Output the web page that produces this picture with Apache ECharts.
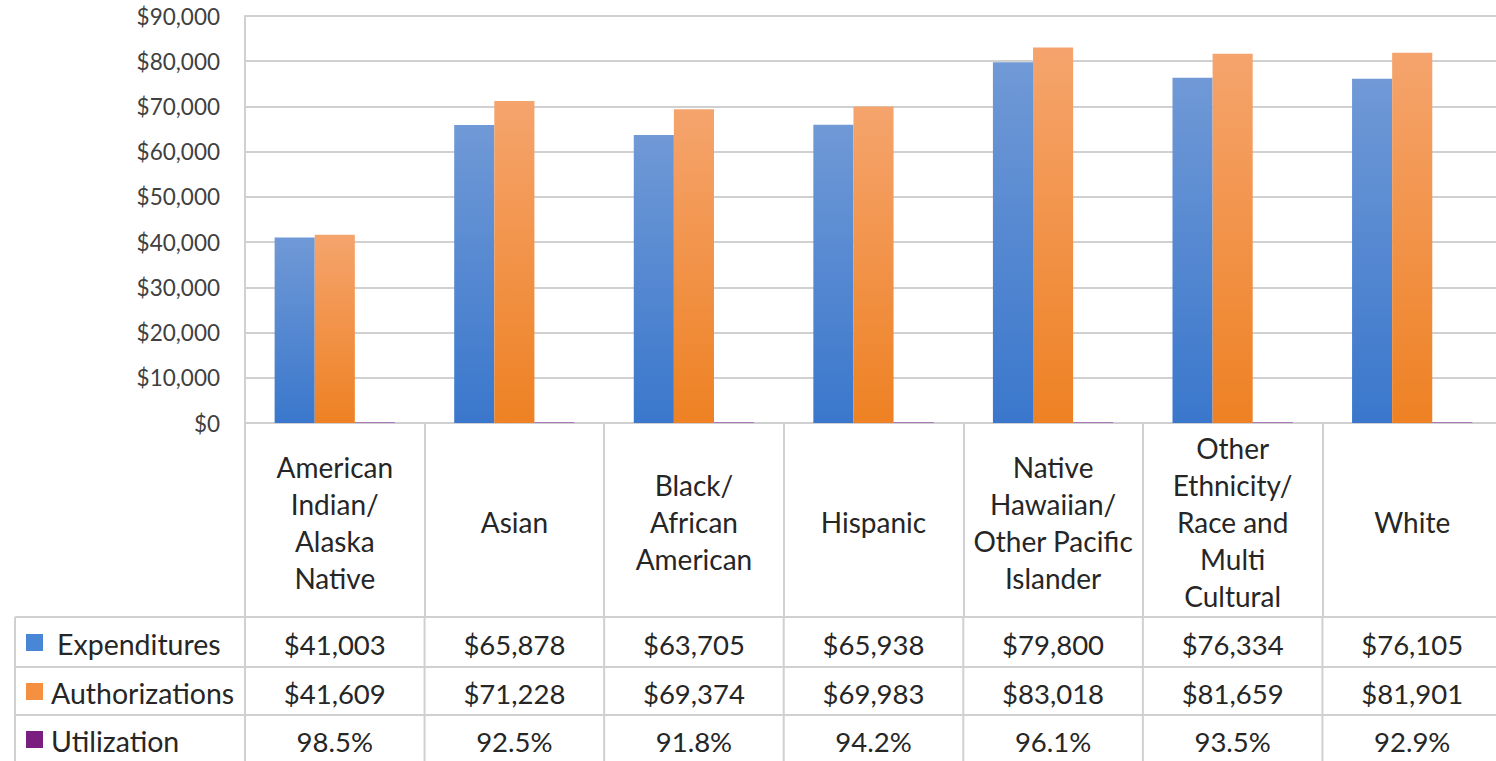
<!DOCTYPE html>
<html>
<head>
<meta charset="utf-8">
<script src="https://cdn.jsdelivr.net/npm/echarts@6/dist/echarts.min.js"></script>
<style>
  html, body { margin: 0; padding: 0; background: #fff; overflow: hidden; }
  #chart { width: 1502px; height: 761px; }
</style>
</head>
<body>
<div id="chart"></div>
<script>
// Average cost per consumer by ethnicity, with a data table underneath
const categories = [
  'American\nIndian/\nAlaska\nNative',
  'Asian',
  'Black/\nAfrican\nAmerican',
  'Hispanic',
  'Native\nHawaiian/\nOther Pacific\nIslander',
  'Other\nEthnicity/\nRace and\nMulti\nCultural',
  'White'
];
const expenditures   = [41003, 65878, 63705, 65938, 79800, 76334, 76105];
const authorizations = [41609, 71228, 69374, 69983, 83018, 81659, 81901];
const utilization    = [0.985, 0.925, 0.918, 0.942, 0.961, 0.935, 0.929];
const seriesNames = ['Expenditures', 'Authorizations', 'Utilization'];
const yMin = 0, yMax = 90000, yStep = 10000;

const FONT = 'Lato, "Open Sans", sans-serif';
const TEXT = '#262626';
const LINE = '#d0d0d0';
const blueFill = new echarts.graphic.LinearGradient(0, 0, 0, 1, [
  { offset: 0, color: '#7099d6' }, { offset: 1, color: '#3a77cc' }]);
const orangeFill = new echarts.graphic.LinearGradient(0, 0, 0, 1, [
  { offset: 0, color: '#f5a46d' }, { offset: 1, color: '#ee8123' }]);
const legendColors = ['#4a86d6', '#f49040', '#7a1f7f'];

const money = v => '$' + v.toLocaleString('en-US');
const pct = v => (v * 100).toFixed(1) + '%';
const rows = [
  expenditures.map(money),
  authorizations.map(money),
  utilization.map(pct)
];

const chart = echarts.init(document.getElementById('chart'), null, { renderer: 'svg' });

chart.setOption({
  animation: false,
  backgroundColor: '#ffffff',
  textStyle: { fontFamily: FONT },
  grid: { left: 245, top: 16, right: 0, height: 407, containLabel: false },
  xAxis: {
    type: 'category',
    data: categories,
    boundaryGap: true,
    axisLine: { lineStyle: { color: LINE, width: 2 } },
    axisTick: { show: true, length: 194, lineStyle: { color: LINE, width: 2 } },
    axisLabel: {
      interval: 0, margin: 99, verticalAlign: 'middle',
      fontSize: 28, lineHeight: 37, color: TEXT, fontFamily: FONT, align: 'center'
    },
    splitLine: { show: false }
  },
  yAxis: {
    type: 'value',
    min: yMin, max: yMax, interval: yStep,
    axisLine: { show: true, lineStyle: { color: LINE, width: 2 } },
    axisTick: { show: false },
    axisLabel: { formatter: money, fontSize: 22.5, color: '#404040', margin: 25, fontFamily: FONT },
    splitLine: { lineStyle: { color: LINE, width: 2 } }
  },
  series: [
    { name: seriesNames[0], type: 'bar', data: expenditures, barGap: '0%', barCategoryGap: '33%',
      itemStyle: { color: blueFill } },
    { name: seriesNames[1], type: 'bar', data: authorizations,
      itemStyle: { color: orangeFill } },
    { name: seriesNames[2], type: 'bar', data: utilization, barMinHeight: 1,
      itemStyle: { color: '#a878b8' } }
  ]
});

// Data table below the plot, aligned to the category axis
function drawTable() {
  const xs = categories.map((c, i) => chart.convertToPixel({ xAxisIndex: 0 }, i));
  const step = xs[1] - xs[0];
  const y0 = chart.convertToPixel({ yAxisIndex: 0 }, yMin);
  const tableTop = y0 + 194;
  const rowH = [50, 48, 48];
  const rowTops = [tableTop, tableTop + rowH[0], tableTop + rowH[0] + rowH[1]];
  const tableBottom = rowTops[2] + rowH[2];
  const tableLeft = 15;
  const tableRight = xs[xs.length - 1] + step / 2;
  const els = [];

  // horizontal rules
  rowTops.concat([tableBottom]).forEach(y => {
    els.push({ type: 'line', shape: { x1: tableLeft, y1: y, x2: tableRight, y2: y },
      style: { stroke: LINE, lineWidth: 2 } });
  });
  // vertical rules through the value rows
  const vx = [tableLeft];
  for (let i = 0; i <= categories.length; i++) vx.push(xs[0] + (i - 0.5) * step);
  vx.forEach(x => {
    els.push({ type: 'line', shape: { x1: x, y1: tableTop, x2: x, y2: tableBottom },
      style: { stroke: LINE, lineWidth: 2 } });
  });
  // legend keys and row names
  const nameX = [57, 51, 51];
  seriesNames.forEach((n, r) => {
    const cy = rowTops[r] + rowH[r] / 2 + 2;
    els.push({ type: 'rect', shape: { x: 26, y: cy - 10, width: 17, height: 17 },
      style: { fill: legendColors[r] } });
    els.push({ type: 'text', x: nameX[r], y: cy,
      style: { text: n, fontSize: 28.5, fontFamily: FONT, fill: TEXT,
        align: 'left', verticalAlign: 'middle' } });
  });
  // values
  rows.forEach((vals, r) => {
    const cy = rowTops[r] + rowH[r] / 2 + 2;
    vals.forEach((v, i) => {
      els.push({ type: 'text', x: xs[i], y: cy,
        style: { text: v, fontSize: 27.5, fontFamily: FONT, fill: TEXT,
          align: 'center', verticalAlign: 'middle' } });
    });
  });
  chart.setOption({ graphic: { elements: els } });
}
drawTable();
</script>
</body>
</html>
